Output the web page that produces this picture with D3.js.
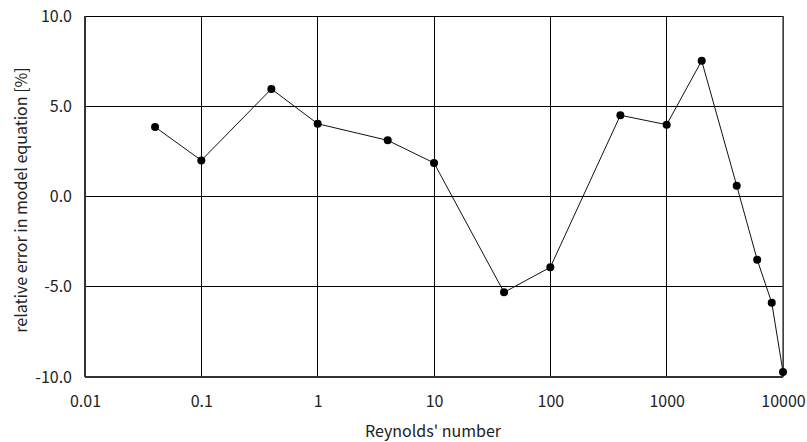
<!DOCTYPE html>
<html>
<head>
<meta charset="utf-8">
<script src="https://cdn.jsdelivr.net/npm/d3@7"></script>
<style>
  html, body { margin: 0; padding: 0; background: #fff; }
  svg text { font-family: "Noto Sans CJK KR", "Noto Sans", sans-serif; fill: #222; }
</style>
</head>
<body>
<svg id="chart" width="807" height="442"></svg>
<script>
// Reynolds' number and relative error of the model equation
const reynolds = [0.04, 0.1, 0.4, 1, 4, 10, 40, 100, 400, 1000, 2000, 4000, 6000, 8000, 10000];
const relError = [3.85, 2.0, 5.96, 4.03, 3.11, 1.86, -5.31, -3.92, 4.5, 3.98, 7.52, 0.6, -3.5, -5.88, -9.72];
const xTicks = [0.01, 0.1, 1, 10, 100, 1000, 10000];
const xTickLabels = ["0.01", "0.1", "1", "10", "100", "1000", "10000"];
const yTicks = [-10, -5, 0, 5, 10];
const yTickLabels = ["-10.0", "-5.0", "0.0", "5.0", "10.0"];

const FONT = "\"Noto Sans CJK KR\", \"Noto Sans\", sans-serif";
const svg = d3.select("#chart");
const m = { left: 85, right: 24, top: 16, bottom: 65 };
const W = 807, H = 442;
const x = d3.scaleLog().domain([0.01, 10000]).range([m.left, W - m.right]);
const y = d3.scaleLinear().domain([-10, 10]).range([H - m.bottom, m.top]);

// grid
const g = svg.append("g");
g.selectAll(".vgrid").data(xTicks).join("line")
  .attr("x1", d => x(d)).attr("x2", d => x(d))
  .attr("y1", y(10)).attr("y2", y(-10))
  .attr("stroke", "#000").attr("stroke-width", 1).attr("shape-rendering", "crispEdges");
g.selectAll(".hgrid").data(yTicks).join("line")
  .attr("x1", x(0.01)).attr("x2", x(10000))
  .attr("y1", d => y(d)).attr("y2", d => y(d))
  .attr("stroke", "#000").attr("stroke-width", 1).attr("shape-rendering", "crispEdges");

// frame: left and bottom axis lines slightly heavier
svg.append("line").attr("x1", x(0.01)).attr("x2", x(0.01)).attr("y1", y(10)).attr("y2", y(-10))
  .attr("stroke", "#333").attr("stroke-width", 2);
svg.append("line").attr("x1", x(0.01)).attr("x2", x(10000)).attr("y1", y(-10)).attr("y2", y(-10))
  .attr("stroke", "#333").attr("stroke-width", 2);
svg.append("line").attr("x1", x(10000)).attr("x2", x(10000)).attr("y1", y(10)).attr("y2", y(-10))
  .attr("stroke", "#555").attr("stroke-width", 1.5);

// axis tick labels
const xAxis = d3.axisBottom(x).tickValues(xTicks)
  .tickFormat((d, i) => xTickLabels[i]).tickSize(0).tickPadding(19);
const gx = svg.append("g").attr("transform", `translate(0,${y(-10)})`).call(xAxis);
gx.select(".domain").remove();
gx.selectAll("text").attr("font-size", 16).style("font-family", FONT).attr("fill", "#222");

const yAxis = d3.axisLeft(y).tickValues(yTicks)
  .tickFormat((d, i) => yTickLabels[i]).tickSize(0).tickPadding(13);
const gy = svg.append("g").attr("transform", `translate(${x(0.01)},0)`).call(yAxis);
gy.select(".domain").remove();
gy.selectAll("text").attr("font-size", 16).style("font-family", FONT).attr("fill", "#222");

// titles
svg.append("text").attr("x", 433).attr("y", 437)
  .attr("text-anchor", "middle").attr("font-size", 16).style("font-family", FONT).text("Reynolds' number");
svg.append("text")
  .attr("transform", `translate(27,200) rotate(-90)`)
  .attr("text-anchor", "middle").attr("font-size", 16).style("font-family", FONT)
  .text("relative error in model equation [%]");

// data line and markers
const pts = reynolds.map((r, i) => [r, relError[i]]);
svg.append("path").datum(pts)
  .attr("fill", "none").attr("stroke", "#111").attr("stroke-width", 1)
  .attr("d", d3.line().x(d => x(d[0])).y(d => y(d[1])));
svg.selectAll(".pt").data(pts).join("circle")
  .attr("cx", d => x(d[0])).attr("cy", d => y(d[1])).attr("r", 4)
  .attr("fill", "#000");
</script>
</body>
</html>
